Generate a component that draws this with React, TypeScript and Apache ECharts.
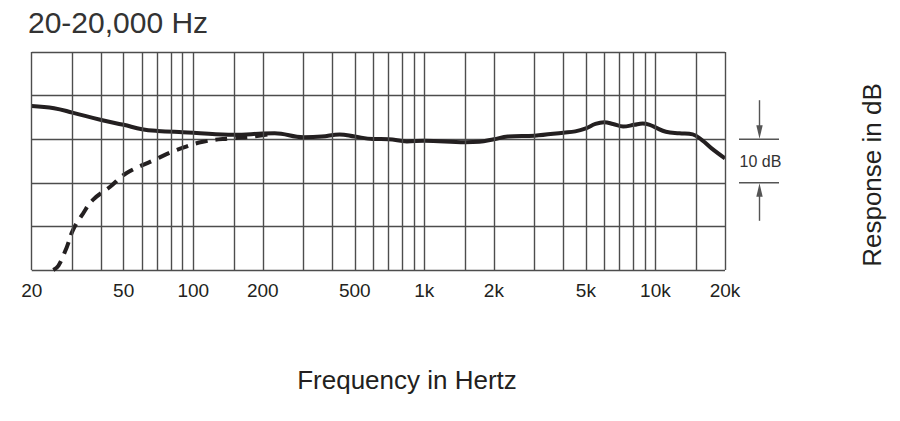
import React, { useEffect, useRef } from "react";
import * as echarts from "echarts";

const gridFreqs = [20, 30, 40, 50, 60, 70, 80, 90, 100, 150, 200, 300, 400, 500, 600, 700, 800, 900, 1000, 1500, 2000, 3000, 4000, 5000, 6000, 7000, 8000, 9000, 10000, 15000, 20000];
const labelFreqs = [20, 50, 100, 200, 500, 1000, 2000, 5000, 10000, 20000];
const labelTexts = ["20", "50", "100", "200", "500", "1k", "2k", "5k", "10k", "20k"];

const solidFreq = [20, 25, 30, 40, 50, 60, 70, 90, 100, 150, 200, 225, 300, 360, 430, 500, 600, 700, 840, 1000, 1500, 1730, 2000, 2300, 3000, 4000, 4500, 5000, 5500, 6000, 6550, 7250, 8100, 8800, 9450, 10000, 11100, 12700, 14500, 15900, 17500, 20000];
const solidDb = [7.6, 7.1, 6.1, 4.4, 3.3, 2.3, 1.9, 1.6, 1.5, 1.0, 1.3, 1.35, 0.45, 0.6, 1.1, 0.6, 0.05, 0, -0.5, -0.35, -0.7, -0.6, 0, 0.6, 0.8, 1.5, 1.8, 2.5, 3.5, 3.9, 3.5, 2.9, 3.3, 3.6, 3.3, 2.7, 1.7, 1.35, 1.1, -0.2, -2.1, -4.4];

const dashFreq = [24.8, 26.1, 28.4, 30.2, 33.4, 36.8, 43.7, 51.3, 67, 84.6, 110, 145, 182, 215];
const dashDb = [-30, -29, -24.7, -20.8, -17, -13.9, -10.9, -7.8, -4.9, -2.5, -0.6, 0.2, 0.6, 1.2];

const FONT = "'Liberation Sans', Arial, sans-serif";
const INK = "#231f20";
const GRID = "#4d4d4d";

export default function App() {
  const ref = useRef<HTMLDivElement>(null);
  useEffect(() => {
    if (!ref.current) return;
    const chart = echarts.init(ref.current, null, { renderer: "svg" });
    const option: any = {
      animation: false,
      grid: { left: 31.7, right: 175, top: 52, bottom: 151, containLabel: false },
      xAxis: {
        type: "log",
        logBase: 10,
        min: 20,
        max: 20000,
        axisLine: { show: false },
        axisTick: { show: false },
        splitLine: { show: false },
        axisLabel: {
          show: true,
          customValues: labelFreqs,
          showMinLabel: true,
          showMaxLabel: true,
          hideOverlap: false,
          margin: 20,
          verticalAlign: "middle",
          fontSize: 19,
          fontFamily: FONT,
          color: INK,
          formatter: (v: number) => {
            const i = labelFreqs.findIndex((f) => Math.abs(f - v) / f < 1e-6);
            return i >= 0 ? labelTexts[i] : "";
          },
        },
      },
      yAxis: {
        type: "value",
        min: -30,
        max: 20,
        interval: 10,
        axisLine: { show: false },
        axisTick: { show: false },
        axisLabel: { show: false },
        splitLine: { show: true, lineStyle: { color: GRID, width: 1.4 } },
      },
      series: [
        {
          type: "line",
          z: 1,
          data: [[20, -30]],
          showSymbol: false,
          silent: true,
          lineStyle: { opacity: 0 },
          markLine: {
            silent: true,
            symbol: ["none", "none"],
            label: { show: false },
            lineStyle: { color: GRID, width: 1.4, type: "solid" },
            emphasis: { disabled: true },
            data: gridFreqs.map((f) => ({ xAxis: f })),
          },
        },
        {
          type: "line",
          z: 3,
          data: dashFreq.map((f, i) => [f, dashDb[i]]),
          smooth: 0.4,
          showSymbol: false,
          silent: true,
          clip: true,
          lineStyle: { color: INK, width: 4, type: [12, 8] },
        },
        {
          type: "line",
          z: 4,
          data: solidFreq.map((f, i) => [f, solidDb[i]]),
          smooth: 0.4,
          showSymbol: false,
          silent: true,
          lineStyle: { color: INK, width: 4 },
        },
      ],
    };
    chart.setOption(option);

    const y0 = chart.convertToPixel({ yAxisIndex: 0 }, 0) as number;
    const y10 = chart.convertToPixel({ yAxisIndex: 0 }, -10) as number;
    const ax = 759.5;
    const c = "#555";
    chart.setOption({
      graphic: [
        {
          type: "text",
          x: 28,
          y: 22.5,
          style: { text: "20-20,000 Hz", font: `30px ${FONT}`, fill: "#333", verticalAlign: "middle", align: "left" },
        },
        {
          type: "text",
          x: 407,
          y: 380,
          style: { text: "Frequency in Hertz", font: `26px ${FONT}`, fill: INK, verticalAlign: "middle", align: "center" },
        },
        {
          type: "text",
          x: 872,
          y: 175,
          rotation: Math.PI / 2,
          style: { text: "Response in dB", font: `26px ${FONT}`, fill: INK, verticalAlign: "middle", align: "center" },
        },
        {
          type: "text",
          x: 760.5,
          y: (y0 + y10) / 2,
          style: { text: "10 dB", font: `16px ${FONT}`, fill: "#333", verticalAlign: "middle", align: "center" },
        },
        { type: "line", shape: { x1: 739, y1: y0, x2: 779, y2: y0 }, style: { stroke: c, lineWidth: 1.4 } },
        { type: "line", shape: { x1: 739, y1: y10, x2: 779, y2: y10 }, style: { stroke: c, lineWidth: 1.4 } },
        { type: "line", shape: { x1: ax, y1: y0 - 39, x2: ax, y2: y0 - 12 }, style: { stroke: c, lineWidth: 1.4 } },
        { type: "polygon", shape: { points: [[ax - 3.2, y0 - 14], [ax + 3.2, y0 - 14], [ax, y0 - 0.5]] }, style: { fill: c } },
        { type: "line", shape: { x1: ax, y1: y10 + 12, x2: ax, y2: y10 + 38 }, style: { stroke: c, lineWidth: 1.4 } },
        { type: "polygon", shape: { points: [[ax - 3.2, y10 + 14], [ax + 3.2, y10 + 14], [ax, y10 + 0.5]] }, style: { fill: c } },
      ],
    });
    return () => chart.dispose();
  }, []);
  return <div ref={ref} style={{ position: "absolute", left: 0, top: 0, width: 900, height: 421 }} />;
}
